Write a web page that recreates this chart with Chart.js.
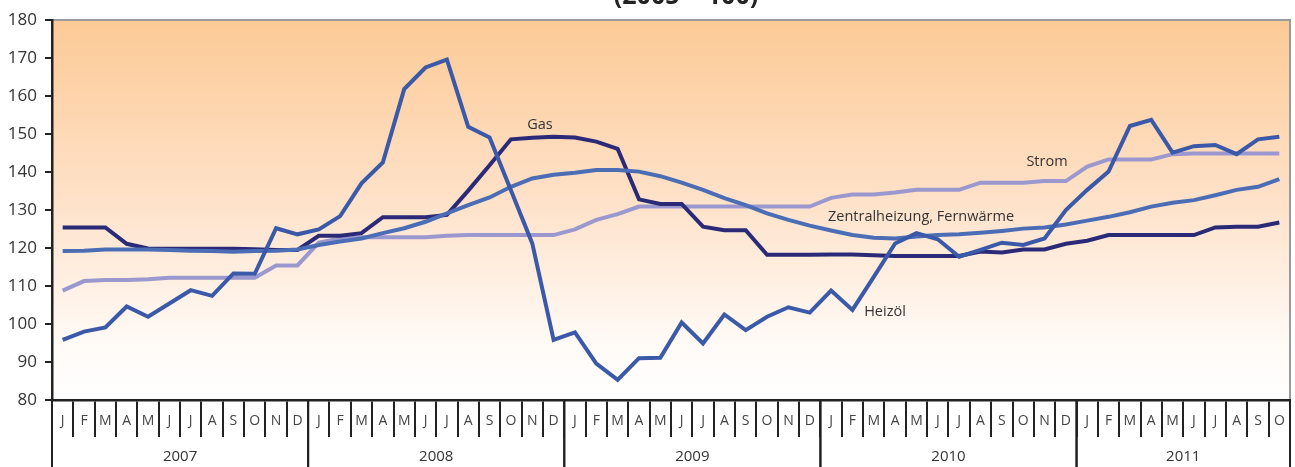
<!DOCTYPE html>
<html>
<head>
<meta charset="utf-8">
<script src="https://cdn.jsdelivr.net/npm/chart.js@4/dist/chart.umd.min.js"></script>
<style>
  html, body { margin: 0; padding: 0; background: #fff; }
  #wrap { width: 1295px; height: 467px; }
</style>
</head>
<body>
<div id="wrap"><canvas id="chart" width="1295" height="467"></canvas></div>
<script>
// months Jan 2007 .. Oct 2011
const monthLetters = ['J','F','M','A','M','J','J','A','S','O','N','D'];
const years = ['2007', '2008', '2009', '2010', '2011'];
const months = [];
years.forEach(function (y, i) {
  const n = (i === years.length - 1) ? 10 : 12;
  for (let m = 0; m < n; m++) months.push(monthLetters[m]);
});
const yTicks = [80, 90, 100, 110, 120, 130, 140, 150, 160, 170, 180];

const heizoel = [
  95.8, 98.0, 99.1, 104.6, 101.9, 105.4, 108.9, 107.4, 113.3, 113.2, 125.2, 123.6,
  124.9, 128.4, 137.0, 142.5, 161.8, 167.5, 169.6, 151.9, 149.1, 135.2, 121.2, 95.8,
  97.8, 89.6, 85.3, 91.0, 91.1, 100.4, 94.9, 102.5, 98.4, 101.9, 104.4, 103.0,
  108.8, 103.7, 112.4, 121.2, 123.9, 122.3, 117.7, 119.5, 121.4, 120.8, 122.5, 130.0,
  135.3, 140.1, 152.1, 153.7, 145.1, 146.8, 147.1, 144.7, 148.6, 149.3
];
const gas = [
  125.4, 125.4, 125.4, 121.1, 119.9, 119.8, 119.8, 119.8, 119.8, 119.7, 119.5, 119.5,
  123.2, 123.2, 123.9, 128.1, 128.1, 128.1, 128.7, 135.1, 141.8, 148.6, 149.0, 149.3,
  149.1, 148.0, 146.1, 132.8, 131.6, 131.6, 125.6, 124.7, 124.7, 118.2, 118.2, 118.2,
  118.3, 118.3, 118.1, 117.9, 117.9, 117.9, 117.9, 119.1, 118.8, 119.6, 119.6, 121.1,
  121.9, 123.4, 123.4, 123.4, 123.4, 123.4, 125.4, 125.6, 125.6, 126.7
];
const zentralheizung = [
  119.2, 119.3, 119.6, 119.6, 119.6, 119.5, 119.3, 119.2, 119.0, 119.2, 119.3, 119.6,
  120.8, 121.7, 122.5, 123.9, 125.2, 126.9, 129.1, 131.3, 133.3, 136.1, 138.3, 139.3,
  139.8, 140.5, 140.5, 140.1, 138.9, 137.2, 135.3, 133.1, 131.3, 129.1, 127.4, 125.9,
  124.6, 123.4, 122.7, 122.5, 123.0, 123.4, 123.6, 124.0, 124.5, 125.1, 125.4, 126.2,
  127.2, 128.2, 129.4, 130.9, 131.9, 132.6, 133.9, 135.3, 136.1, 138.1
];
const strom = [
  108.8, 111.3, 111.6, 111.6, 111.8, 112.2, 112.2, 112.2, 112.2, 112.2, 115.4, 115.4,
  121.4, 122.5, 122.8, 122.8, 122.8, 122.8, 123.2, 123.4, 123.4, 123.4, 123.4, 123.4,
  124.9, 127.4, 128.9, 130.9, 130.9, 130.9, 130.9, 130.9, 130.9, 130.9, 130.9, 130.9,
  133.2, 134.1, 134.1, 134.6, 135.3, 135.3, 135.3, 137.2, 137.2, 137.2, 137.6, 137.6,
  141.4, 143.3, 143.3, 143.3, 144.7, 144.9, 144.9, 144.9, 144.9, 144.9
];

// series label text placed beside the lines
const seriesLabels = [
  { text: 'Gas', x: 540, y: 125 },
  { text: 'Strom', x: 1047, y: 162 },
  { text: 'Zentralheizung, Fernwärme', x: 921, y: 217 },
  { text: 'Heizöl', x: 885, y: 312 }
];

const FONT = "'Open Sans', 'DejaVu Sans', sans-serif";

const backdrop = {
  id: 'backdrop',
  beforeDraw(chart) {
    const { ctx, chartArea: a } = chart;
    const g = ctx.createLinearGradient(0, a.top, 0, a.bottom);
    g.addColorStop(0, '#fcca96');
    g.addColorStop(0.45, '#fee0c6');
    g.addColorStop(0.85, '#fffaf6');
    g.addColorStop(1, '#ffffff');
    ctx.save();
    ctx.fillStyle = g;
    ctx.fillRect(a.left, a.top, a.right - a.left, a.bottom - a.top);
    ctx.strokeStyle = '#9a9a9a';
    ctx.lineWidth = 2;
    ctx.beginPath();
    ctx.moveTo(a.left, a.top);
    ctx.lineTo(a.right, a.top);
    ctx.lineTo(a.right, a.bottom);
    ctx.stroke();
    ctx.restore();
  },
  afterDraw(chart) {
    const { ctx, chartArea: a } = chart;
    const x = chart.scales.x;
    const H = chart.height;
    ctx.save();
    // title (cut off at top)
    ctx.fillStyle = '#222';
    ctx.font = 'bold 25px ' + FONT;
    ctx.textAlign = 'center';
    ctx.textBaseline = 'alphabetic';
    ctx.fillText('(2005 = 100)', 686, 4);

    // year separators and year labels
    ctx.strokeStyle = '#222';
    ctx.lineWidth = 2;
    let start = 0;
    const half = (x.getPixelForValue(1) - x.getPixelForValue(0)) / 2;
    years.forEach(function (y, i) {
      const n = (i === years.length - 1) ? 10 : 12;
      const x0 = x.getPixelForValue(start) - half;
      const x1 = x.getPixelForValue(start + n - 1) + half;
      ctx.beginPath();
      ctx.moveTo(x0, a.bottom);
      ctx.lineTo(x0, H);
      ctx.moveTo(x1, a.bottom);
      ctx.lineTo(x1, H);
      ctx.stroke();
      ctx.fillStyle = '#333';
      ctx.font = '15px ' + FONT;
      ctx.textAlign = 'center';
      ctx.textBaseline = 'middle';
      ctx.fillText(y, (x0 + x1) / 2, 457);
      start += n;
    });

    // series names
    ctx.fillStyle = '#333';
    ctx.font = '14.5px ' + FONT;
    ctx.textAlign = 'center';
    ctx.textBaseline = 'middle';
    seriesLabels.forEach(function (l) {
      ctx.fillText(l.text, l.x, l.y);
    });
    ctx.restore();
  }
};

const line = function (label, data, color) {
  return {
    label: label,
    data: data,
    borderColor: color,
    backgroundColor: color,
    borderWidth: 4,
    pointRadius: 0,
    tension: 0,
    fill: false
  };
};

new Chart(document.getElementById('chart'), {
  type: 'line',
  data: {
    labels: months,
    datasets: [
      line('Heizöl', heizoel, '#3b59a9'),
      line('Zentralheizung, Fernwärme', zentralheizung, '#4a6db6'),
      line('Gas', gas, '#2b2a78'),
      line('Strom', strom, '#9b98cf')
    ]
  },
  options: {
    responsive: false,
    animation: false,
    layout: { padding: { top: 20, right: 5, left: 0, bottom: 0 } },
    plugins: {
      legend: { display: false },
      tooltip: { enabled: false }
    },
    scales: {
      x: {
        type: 'category',
        offset: true,
        afterFit(scale) { scale.height = 67; },
        border: { color: '#222', width: 2.5 },
        grid: {
          offset: true,
          drawOnChartArea: false,
          tickLength: 37,
          color: '#222',
          lineWidth: 2
        },
        ticks: {
          autoSkip: false,
          maxRotation: 0,
          padding: -24,
          color: '#444',
          font: { family: FONT, size: 14 }
        }
      },
      y: {
        min: 80,
        max: 180,
        afterFit(scale) { scale.width = 52; },
        afterBuildTicks(scale) {
          scale.ticks = yTicks.map(function (v) { return { value: v }; });
        },
        border: { color: '#222', width: 2.5 },
        grid: {
          drawOnChartArea: false,
          tickLength: 7,
          color: '#222',
          lineWidth: 2
        },
        ticks: {
          padding: 8,
          color: '#333',
          font: { family: FONT, size: 17 }
        }
      }
    }
  },
  plugins: [backdrop]
});
</script>
</body>
</html>
